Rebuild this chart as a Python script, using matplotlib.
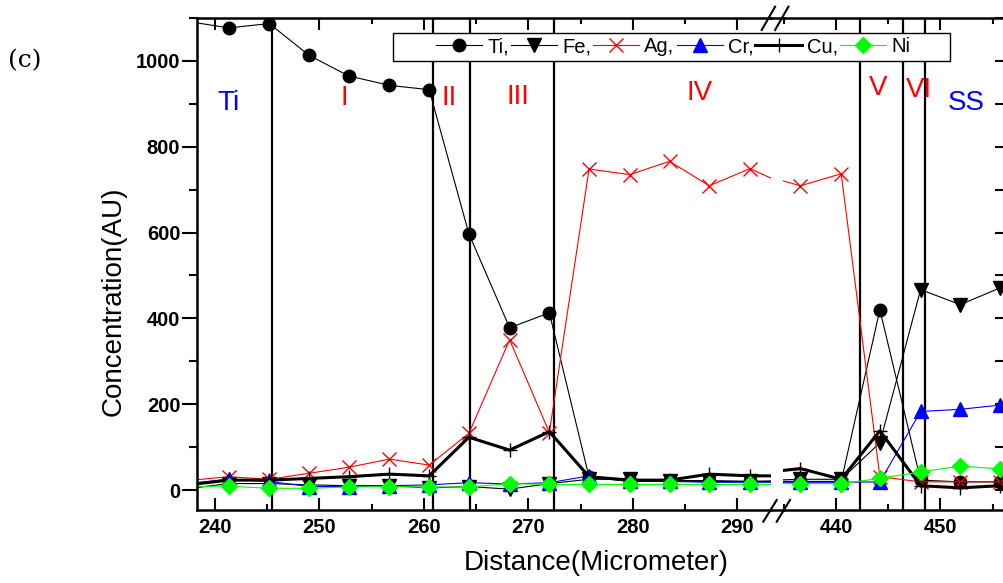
import matplotlib
matplotlib.use('Agg')
import matplotlib.pyplot as plt
from matplotlib.lines import Line2D
from matplotlib.patches import Rectangle
from matplotlib.ticker import MultipleLocator

# ---------------- data ----------------
distance = [237.4, 241.3, 245.2, 249.0, 252.8, 256.7, 260.5, 264.3, 268.2, 272.0,
            275.8, 279.7, 283.5, 287.3, 291.2, 295.0,
            432.8, 436.6, 440.5, 444.2, 448.1, 451.9, 455.7]

ti = [1092, 1077, 1087, 1013, 965, 943, 933, 597, 378, 413,
      30, 20, 20, 20, 20, 20,
      20, 20, 20, 420, 23, 19, 19]
fe = [3, 15, 15, 12, 10, 10, 5, 8, 2, 15,
      25, 25, 22, 22, 20, 22,
      22, 25, 25, 110, 467, 432, 471]
ag = [22, 31, 25, 39, 53, 72, 58, 132, 350, 134,
      748, 735, 766, 709, 749, 707,
      735, 709, 737, 31, 19, 19, 19]
cr = [15, 25, 20, 8, 8, 10, 12, 17, 14, 17,
      33, 20, 20, 18, 18, 18,
      18, 18, 18, 19, 183, 188, 198]
cu = [12, 23, 23, 27, 31, 37, 33, 123, 93, 136,
      31, 23, 23, 37, 33, 33,
      40, 50, 25, 138, 10, 5, 10]
ni = [8, 9, 4, 4, 7, 8, 7, 7, 15, 13,
      13, 13, 13, 13, 13, 13,
      15, 15, 15, 27, 42, 56, 49]

series_names = ["Ti,", "Fe,", "Ag,", "Cr,", "Cu,", "Ni"]
series_values = [ti, fe, ag, cr, cu, ni]

boundaries_left = [245.5, 260.9, 264.4, 272.4]
boundaries_right = [442.3, 446.4, 448.5]

region_labels = ["Ti", "I", "II", "III", "IV", "V", "VI", "SS"]
region_x = [241.3, 252.4, 262.4, 269.0, 286.4, 444.0, 447.9, 452.5]
region_y = [903, 914, 914, 917, 926, 938, 933, 903]
region_colors = ["blue", "red", "red", "red", "red", "red", "red", "blue"]

left_ticks = [240, 250, 260, 270, 280, 290]
right_ticks = [440, 450]

# ---------------- styles ----------------
styles = [
    dict(color='black', lw=0.8, marker='o', ms=9, mfc='black', mec='black'),
    dict(color='black', lw=0.8, marker='v', ms=10, mfc='black', mec='black'),
    dict(color='#ff0000', lw=0.8, marker='x', ms=10, mew=1.0),
    dict(color='#0000ff', lw=0.8, marker='^', ms=9.5, mfc='#0000ff', mec='#0000ff'),
    dict(color='black', lw=2.2, marker='+', ms=10, mew=1.0),
    dict(color='#00ff00', lw=0.8, marker='D', ms=8, mfc='#00ff00', mec='#00ff00'),
]

plt.rcParams['font.family'] = ['Liberation Sans', 'DejaVu Sans']

W, H = 1004, 583
fig = plt.figure(figsize=(W / 100, H / 100), dpi=100)


def fx(px):
    return px / W


def fy(py):
    return 1 - py / H


axL = fig.add_axes([fx(197), fy(510), fx(771) - fx(197), fy(18) - fy(510)])
axR = fig.add_axes([fx(783), fy(510), fx(1006) - fx(783), fy(18) - fy(510)])

handles = []
for ax in (axL, axR):
    for name, vals, st in zip(series_names, series_values, styles):
        h, = ax.plot(distance, vals, label=name, **st)
        if ax is axL:
            handles.append(h)
    ax.set_ylim(-46.6, 1100)
    for sp in ax.spines.values():
        sp.set_linewidth(1.8)

for xv in boundaries_left:
    axL.axvline(xv, color='black', lw=1.6, zorder=1)
for xv in boundaries_right:
    axR.axvline(xv, color='black', lw=1.6, zorder=1)

axL.set_xlim(238.28, 293.21)
axR.set_xlim(434.93, 456.27)

axL.spines['right'].set_visible(False)
axR.spines['left'].set_visible(False)

# ticks
axL.set_xticks(left_ticks)
axL.xaxis.set_minor_locator(MultipleLocator(5))
axR.set_xticks(right_ticks)
axR.xaxis.set_minor_locator(MultipleLocator(5))
for ax in (axL, axR):
    ax.yaxis.set_major_locator(MultipleLocator(200))
    ax.yaxis.set_minor_locator(MultipleLocator(100))
    ax.tick_params(axis='x', which='both', direction='in', top=True, bottom=True,
                   width=1.5, pad=6, labelsize=14.5)
    ax.tick_params(axis='x', which='major', length=8.5)
    ax.tick_params(axis='x', which='minor', length=4.5)
    for lab in ax.get_xticklabels():
        lab.set_fontweight('bold')

axL.tick_params(axis='y', which='both', direction='out', left=True, right=False,
                width=1.5, pad=1, labelsize=14.5)
axL.tick_params(axis='y', which='major', length=11)
axL.tick_params(axis='y', which='minor', length=6)
for lab in axL.get_yticklabels():
    lab.set_fontweight('bold')
axR.tick_params(axis='y', which='both', direction='in', left=False, right=True,
                labelleft=False, labelright=False, width=1.5, length=8)

# region labels
for lab, xv, yv, c in zip(region_labels, region_x, region_y, region_colors):
    ax = axL if xv < 300 else axR
    ax.text(xv, yv, lab, color=c, fontsize=20, ha='center', va='center')

# axis labels
fig.text(fx(114), fy(301), 'Concentration(AU)', rotation=90, fontsize=20,
         ha='center', va='center')
fig.text(fx(596), fy(563), 'Distance(Micrometer)', fontsize=20,
         ha='center', va='center')
fig.text(fx(8), fy(61), '(c)', fontsize=18, family='DejaVu Serif',
         ha='left', va='center')

# bridge the spines across the break and draw break marks
for py in (510, 18):
    fig.add_artist(Line2D([fx(770), fx(784)], [fy(py), fy(py)], color='black',
                          lw=1.8, transform=fig.transFigure))
for (x0, x1) in ((763.3, 776.7), (776.7, 790.0)):
    fig.add_artist(Line2D([fx(x0), fx(x1)], [fy(521.7), fy(500)], color='black',
                          lw=1.5, transform=fig.transFigure))
    fig.add_artist(Line2D([fx(x0 - 1.6), fx(x1 - 1.6)], [fy(30), fy(6.7)], color='black',
                          lw=1.5, transform=fig.transFigure))

# legend box (wider than its entries, as in the reference)
box = Rectangle((fx(393), fy(61)), fx(950) - fx(393), fy(33) - fy(61),
                transform=fig.transFigure, facecolor='white', edgecolor='black',
                lw=1.0, zorder=4)
fig.add_artist(box)
leg = fig.legend(handles, series_names, loc='center',
                 bbox_to_anchor=(fx(673), fy(47)), ncol=6, frameon=False,
                 fontsize=14.5, handlelength=2.3, handletextpad=0.25,
                 columnspacing=0.1, borderpad=0.2, borderaxespad=0)
leg.set_zorder(5)

fig.savefig('out.png', dpi=100)
